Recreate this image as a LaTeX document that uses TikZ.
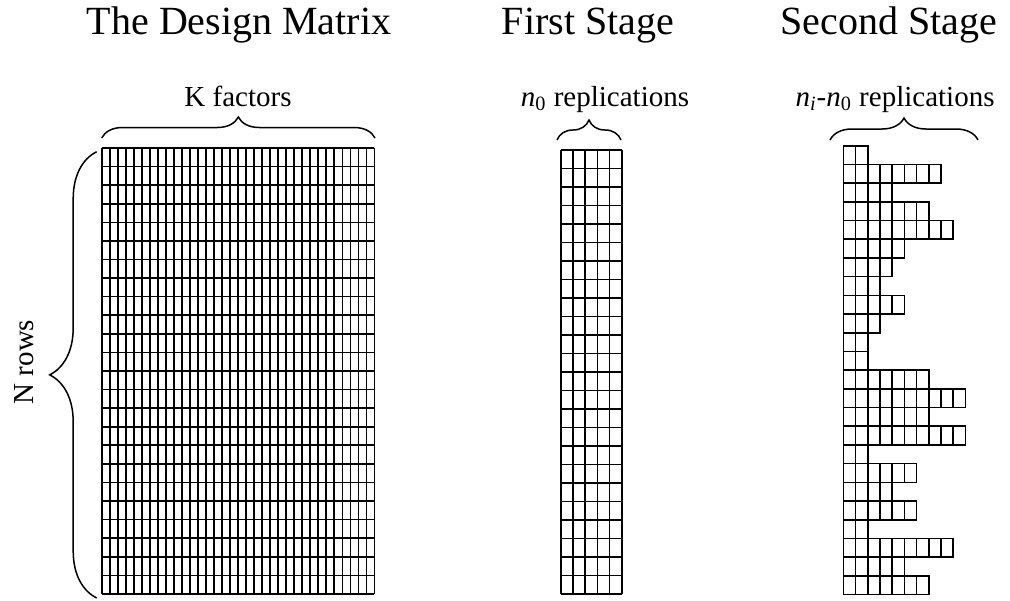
\documentclass[tikz,border=0pt]{standalone}
\usepackage{fontspec}
\setmainfont{Liberation Serif}
\usetikzlibrary{decorations.pathreplacing}
\tikzset{
  stagetitle/.style={anchor=base, inner sep=0pt, font=\fontsize{20}{24}\selectfont},
  lbl/.style={anchor=base, inner sep=0pt, font=\fontsize{14.5}{17}\selectfont},
  gridline/.style={line width=0.8pt, black},
  cellbox/.style={draw, line width=0.8pt, black},
  brc/.style={decorate, decoration={brace, amplitude=#1}, line width=0.75pt}
}

\begin{document}
\begin{tikzpicture}[x=0.5pt, y=-0.5pt]
  \useasboundingbox (0,0) rectangle (1010,600);
  % titles
  \node[stagetitle] (dmtitle) at (239,34) {The Design Matrix};
  \node[stagetitle] (firsttitle) at (588,34) {First Stage};
  \node[stagetitle] (secondtitle) at (889,34) {Second Stage};
  % labels
  \node[lbl] (kfactors) at (238,106) {K factors};
  \node[lbl] (nzero) at (605,106) {\textit{n}\textsubscript{0} replications};
  \node[lbl] (nirest) at (895,106) {\textit{n}\textsubscript{\textit{i}}-\textit{n}\textsubscript{0} replications};
  \node[lbl, rotate=90] (nrows) at (33,362) {N rows};

  % design matrix, 34 x 24
  \foreach \i in {0,...,34}
    \draw[gridline] (101.7+\i*8.02,148) -- (101.7+\i*8.02,594);
  \foreach \j in {0,...,24}
    \draw[gridline] (101.7,148+\j*18.58) -- (374.4,148+\j*18.58);

  % first stage, 5 x 24
  \foreach \i in {0,...,5}
    \draw[gridline] (561+\i*12.14,150) -- (561+\i*12.14,594);
  \foreach \j in {0,...,24}
    \draw[gridline] (561,150+\j*18.5) -- (621.7,150+\j*18.5);

  % second stage, ragged rows
  \foreach \n [count=\r from 0] in {2,8,4,7,9,5,4,3,5,3,2,2,7,10,7,10,2,6,4,6,2,9,5,7}
    \foreach \c in {1,...,\n}
      \draw[cellbox] (843.3+\c*12.2-12.2,145.7+\r*18.7) rectangle ++(12.2,18.7);

  % braces
  \coordinate (dm-tl) at (101.7,138);
  \coordinate (dm-tr) at (375,138);
  \coordinate (dm-lt) at (96.7,151.7);
  \coordinate (dm-lb) at (96.7,598);
  \coordinate (fs-tl) at (557,140);
  \coordinate (fs-tr) at (621,140);
  \coordinate (ss-tl) at (830,140);
  \coordinate (ss-tr) at (978,140);
  \draw[brc=10.5pt] (dm-tl) -- (dm-tr);
  \draw[brc=23.5pt] (dm-lb) -- (dm-lt);
  \draw[brc=10pt] (fs-tl) -- (fs-tr);
  \draw[brc=11pt] (ss-tl) -- (ss-tr);
\end{tikzpicture}
\end{document}
